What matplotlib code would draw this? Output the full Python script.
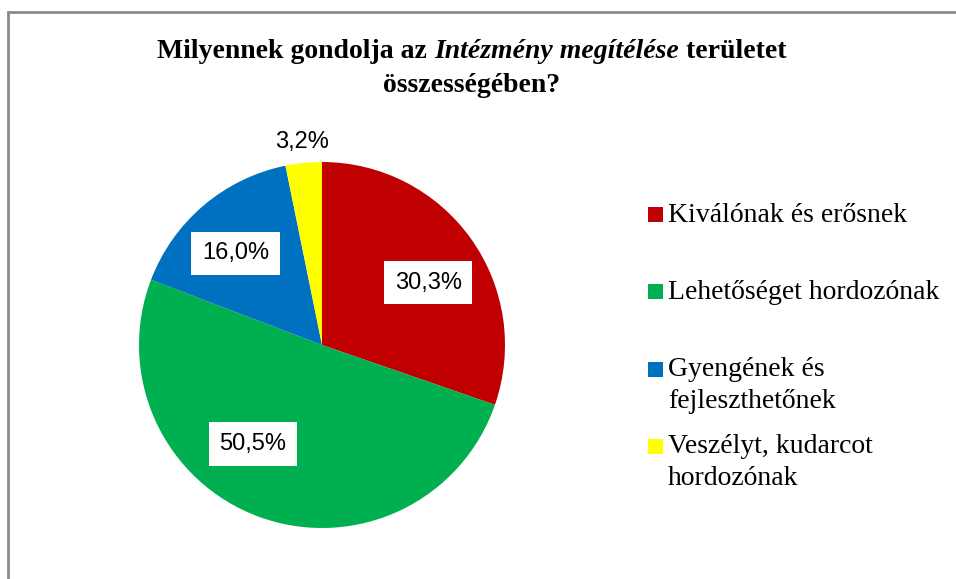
import numpy as np
import matplotlib.pyplot as plt
from matplotlib.patches import Rectangle

categories = ['Kiválónak és erősnek', 'Lehetőséget hordozónak',
              'Gyengének és\nfejleszthetőnek', 'Veszélyt, kudarcot\nhordozónak']
values = [30.3, 50.5, 16.0, 3.2]
colors = ['#C00000', '#00B050', '#0070C0', '#FFFF00']
# label placement tweaks (Excel "best fit" style)
label_dist = [0.673, 0.66, 0.69, 1.115]
label_shift = [-5, -15, 3, 0]  # degrees
label_box = [True, True, True, False]

W, H = 956, 579
fig = plt.figure(figsize=(W / 100, H / 100), dpi=100)

# outer chart border
fig.add_artist(Rectangle((8 / W, -0.05), 1.1, 1 - 11.5 / H + 0.05,
                         transform=fig.transFigure, fill=False,
                         edgecolor='#8a8a8a', linewidth=2))

# pie axes
cx, cy, r = 322, 345, 183
ax = fig.add_axes([(cx - r) / W, (H - cy - r) / H, 2 * r / W, 2 * r / H])
ax.axis('off')

wedges, _ = ax.pie(values, colors=colors, startangle=90, counterclock=False,
                   radius=1, wedgeprops=dict(linewidth=0))
ax.set_xlim(-1, 1)
ax.set_ylim(-1, 1)

for w, v, d, s, b in zip(wedges, values, label_dist, label_shift, label_box):
    ang = np.deg2rad((w.theta1 + w.theta2) / 2 + s)
    txt = f'{v:.1f}%'.replace('.', ',')
    kw = dict(ha='center', va='center', fontsize=17, family='Liberation Sans',
              color='black', clip_on=False)
    if b:
        kw['bbox'] = dict(boxstyle='square,pad=0.45', facecolor='white', edgecolor='none')
    ax.text(d * np.cos(ang), d * np.sin(ang), txt, **kw)

# title with italic part
parts = [('Milyennek gondolja az ', 'normal'), ('Intézmény megítélése', 'italic'),
         (' területet', 'normal')]
tfont = dict(family='Liberation Serif', fontweight='bold', fontsize=20)
texts = []
for s, st in parts:
    texts.append(fig.text(0, 1 - 51 / H, s, style=st, va='center', ha='left', **tfont))
fig.canvas.draw()
rend = fig.canvas.get_renderer()
widths = [t.get_window_extent(rend).width for t in texts]
x = (472 - sum(widths) / 2)
for t, wd in zip(texts, widths):
    t.set_x(x / W)
    x += wd
fig.text(472 / W, 1 - 86 / H, 'összességében?', ha='center', va='center', **tfont)

# legend drawn by hand to match Excel layout
for i, (lab, col) in enumerate(zip(categories, colors)):
    yc = 214.5 + i * 77.3
    fig.add_artist(Rectangle((648 / W, 1 - (yc + 7.5) / H), 15 / W, 15 / H,
                             transform=fig.transFigure, facecolor=col, edgecolor='none'))
    fig.text(668 / W, 1 - (yc - 12) / H, lab, ha='left', va='top',
             family='Liberation Serif', fontsize=20, linespacing=1.36)

fig.savefig('out.png', dpi=100)
